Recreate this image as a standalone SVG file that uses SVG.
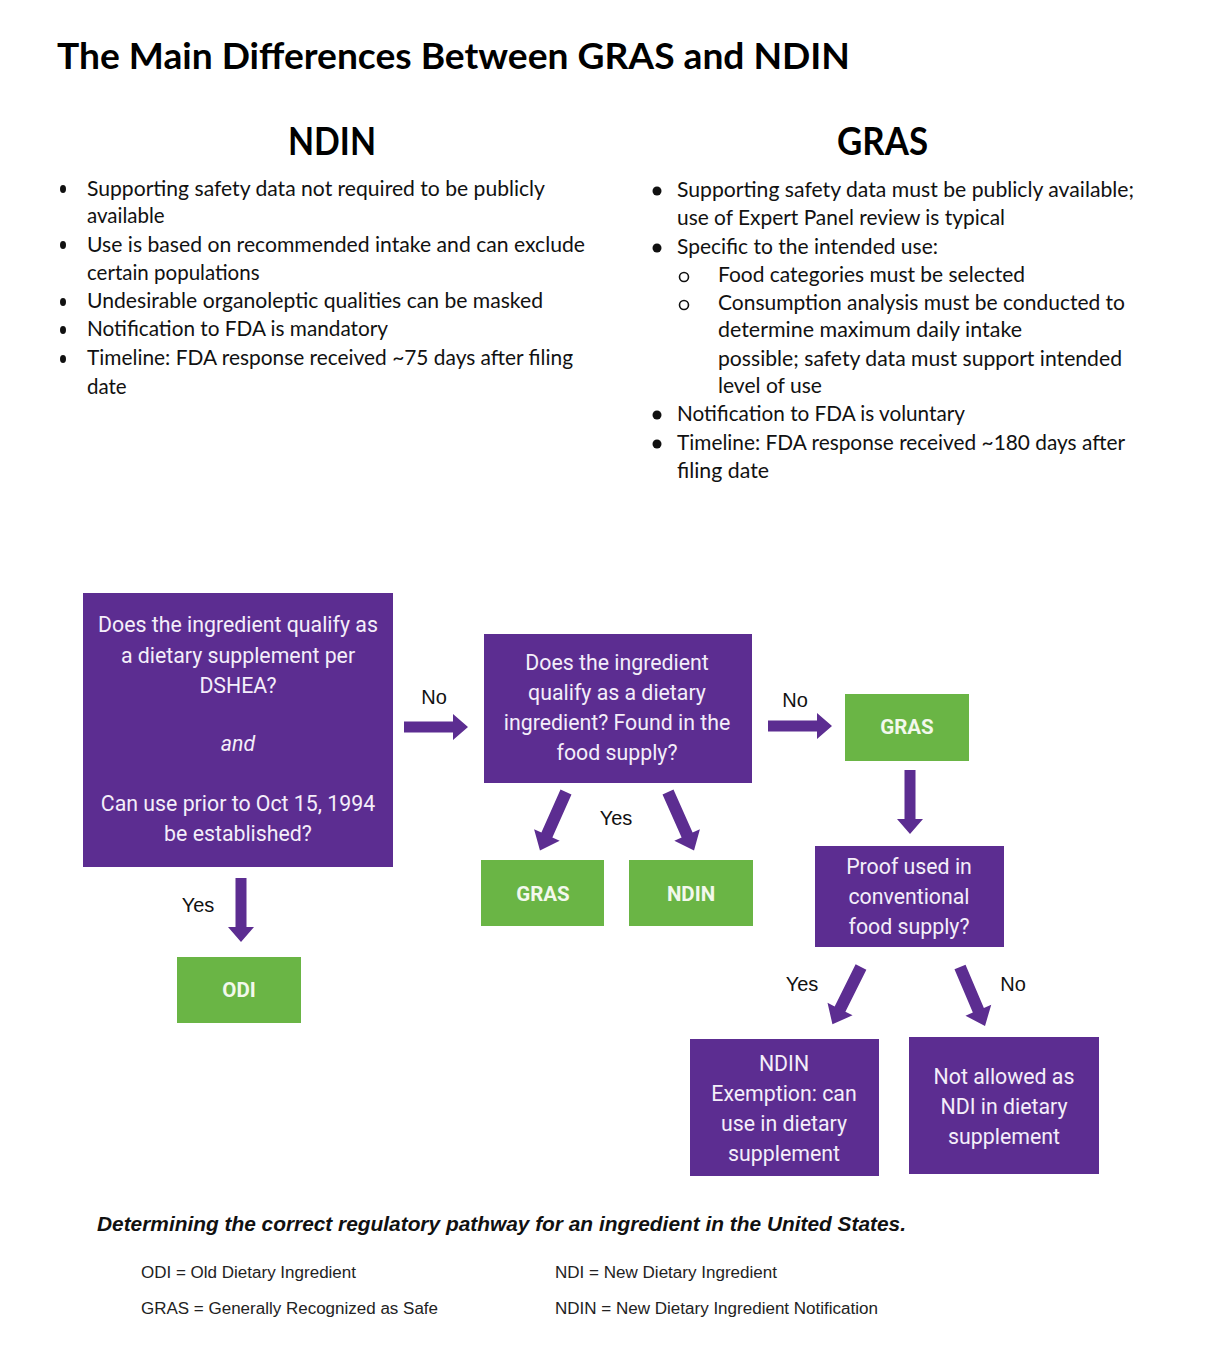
<svg xmlns="http://www.w3.org/2000/svg" xmlns:xlink="http://www.w3.org/1999/xlink" width="1222" height="1366" viewBox="0 0 1222 1366">
<style>
.title{font-family:Lato,"Liberation Sans",sans-serif;font-weight:bold;font-size:36px;fill:#000}
.head{font-family:Lato,"Liberation Sans",sans-serif;font-weight:bold;font-size:38px;fill:#000}
.bt{font-family:Lato,"Liberation Sans",sans-serif;font-size:20.5px;fill:#111}
.pbox{fill:#5c2d91}
.gbox{fill:#6ab545}
.pt{font-family:Roboto,"Liberation Sans",sans-serif;font-size:21.3px;fill:#f4eefa;text-anchor:middle}
.gt{font-family:Roboto,"Liberation Sans",sans-serif;font-weight:bold;font-size:20.5px;fill:#f2f8ec;text-anchor:middle}
.lbl{font-family:"Liberation Sans",Arial,sans-serif;font-size:20px;fill:#111;text-anchor:middle}
.cap{font-family:"Liberation Sans",Arial,sans-serif;font-size:20px;font-weight:bold;font-style:italic;fill:#111}
.leg{font-family:"Liberation Sans",Arial,sans-serif;font-size:16px;fill:#222}
.arr{fill:#5c2d91}
</style>
<defs>
<polygon id="arrowDown" points="-5.5,0 5.5,0 5.5,49 13,49 0,64 -13,49 -5.5,49"/>
<polygon id="arrowDiag" points="-6,0 6,0 6,47 14,47 0,64 -14,47 -6,47"/>
</defs>
<rect width="1222" height="1366" fill="#fff"/>

<g id="title">
<text class="title" x="57" y="69" textLength="793" lengthAdjust="spacingAndGlyphs">The Main Differences Between GRAS and NDIN</text>
</g>

<g id="ndin-list">
<text class="head" x="288" y="155" textLength="88" lengthAdjust="spacingAndGlyphs">NDIN</text>
<g fill="#111">
<ellipse cx="63" cy="189" rx="3" ry="4"/>
<ellipse cx="63" cy="245" rx="3" ry="4"/>
<ellipse cx="63" cy="302" rx="3" ry="4"/>
<ellipse cx="63" cy="330" rx="3" ry="4"/>
<ellipse cx="63" cy="359" rx="3" ry="4"/>
</g>
<text class="bt" x="87" y="196" textLength="458" lengthAdjust="spacingAndGlyphs">Supporting safety data not required to be publicly</text>
<text class="bt" x="87" y="223">available</text>
<text class="bt" x="87" y="252" textLength="498" lengthAdjust="spacingAndGlyphs">Use is based on recommended intake and can exclude</text>
<text class="bt" x="87" y="280">certain populations</text>
<text class="bt" x="87" y="308" textLength="456" lengthAdjust="spacingAndGlyphs">Undesirable organoleptic qualities can be masked</text>
<text class="bt" x="87" y="336" textLength="301" lengthAdjust="spacingAndGlyphs">Notification to FDA is mandatory</text>
<text class="bt" x="87" y="365" textLength="486" lengthAdjust="spacingAndGlyphs">Timeline: FDA response received ~75 days after filing</text>
<text class="bt" x="87" y="394">date</text>
</g>

<g id="gras-list">
<text class="head" x="837" y="155" textLength="91" lengthAdjust="spacingAndGlyphs">GRAS</text>
<g fill="#111">
<circle cx="657" cy="191" r="4.5"/>
<circle cx="657" cy="248" r="4.5"/>
<circle cx="657" cy="415" r="4.5"/>
<circle cx="657" cy="444" r="4.5"/>
</g>
<g fill="none" stroke="#111" stroke-width="1.6">
<circle cx="684" cy="277" r="4.5"/>
<circle cx="684" cy="305" r="4.5"/>
</g>
<text class="bt" x="677" y="197" textLength="457" lengthAdjust="spacingAndGlyphs">Supporting safety data must be publicly available;</text>
<text class="bt" x="677" y="225" textLength="328" lengthAdjust="spacingAndGlyphs">use of Expert Panel review is typical</text>
<text class="bt" x="677" y="254" textLength="261" lengthAdjust="spacingAndGlyphs">Specific to the intended use:</text>
<text class="bt" x="718" y="282" textLength="307" lengthAdjust="spacingAndGlyphs">Food categories must be selected</text>
<text class="bt" x="718" y="310" textLength="407" lengthAdjust="spacingAndGlyphs">Consumption analysis must be conducted to</text>
<text class="bt" x="718" y="337" textLength="304" lengthAdjust="spacingAndGlyphs">determine maximum daily intake</text>
<text class="bt" x="718" y="366" textLength="404" lengthAdjust="spacingAndGlyphs">possible; safety data must support intended</text>
<text class="bt" x="718" y="393" textLength="104" lengthAdjust="spacingAndGlyphs">level of use</text>
<text class="bt" x="677" y="421" textLength="288" lengthAdjust="spacingAndGlyphs">Notification to FDA is voluntary</text>
<text class="bt" x="677" y="450" textLength="448" lengthAdjust="spacingAndGlyphs">Timeline: FDA response received ~180 days after</text>
<text class="bt" x="677" y="478" textLength="92" lengthAdjust="spacingAndGlyphs">filing date</text>
</g>

<g id="connectors">
<use xlink:href="#arrowDown" class="arr" transform="translate(241,878)"/>
<use xlink:href="#arrowDown" class="arr" transform="translate(404,727) rotate(-90)"/>
<use xlink:href="#arrowDown" class="arr" transform="translate(768,726) rotate(-90)"/>
<use xlink:href="#arrowDown" class="arr" transform="translate(910,770)"/>
<use xlink:href="#arrowDiag" class="arr" transform="translate(566,792) rotate(24)"/>
<use xlink:href="#arrowDiag" class="arr" transform="translate(668,792) rotate(-24)"/>
<use xlink:href="#arrowDiag" class="arr" transform="translate(861,967) rotate(26.5)"/>
<use xlink:href="#arrowDiag" class="arr" transform="translate(960,967) rotate(-23)"/>
<text class="lbl" x="198" y="912">Yes</text>
<text class="lbl" x="434" y="704">No</text>
<text class="lbl" x="795" y="707">No</text>
<text class="lbl" x="616" y="825">Yes</text>
<text class="lbl" x="802" y="991">Yes</text>
<text class="lbl" x="1013" y="991">No</text>
</g>

<g id="q1">
<rect class="pbox" x="83" y="593" width="310" height="274"/>
<text class="pt" x="238" y="632">Does the ingredient qualify as</text>
<text class="pt" x="238" y="663">a dietary supplement per</text>
<text class="pt" x="238" y="693">DSHEA?</text>
<text class="pt" x="238" y="751" font-style="italic">and</text>
<text class="pt" x="238" y="811">Can use prior to Oct 15, 1994</text>
<text class="pt" x="238" y="841">be established?</text>
</g>

<g id="odi">
<rect class="gbox" x="177" y="957" width="124" height="66"/>
<text class="gt" x="239" y="997">ODI</text>
</g>

<g id="q2">
<rect class="pbox" x="484" y="634" width="268" height="149"/>
<text class="pt" x="617" y="670">Does the ingredient</text>
<text class="pt" x="617" y="700">qualify as a dietary</text>
<text class="pt" x="617" y="730">ingredient? Found in the</text>
<text class="pt" x="617" y="760">food supply?</text>
</g>

<g id="gras-mid">
<rect class="gbox" x="481" y="860" width="123" height="66"/>
<text class="gt" x="543" y="901">GRAS</text>
</g>

<g id="ndin-mid">
<rect class="gbox" x="629" y="860" width="124" height="66"/>
<text class="gt" x="691" y="901">NDIN</text>
</g>

<g id="gras-top">
<rect class="gbox" x="845" y="694" width="124" height="67"/>
<text class="gt" x="907" y="734">GRAS</text>
</g>

<g id="q3">
<rect class="pbox" x="815" y="846" width="189" height="101"/>
<text class="pt" x="909" y="874">Proof used in</text>
<text class="pt" x="909" y="904">conventional</text>
<text class="pt" x="909" y="934">food supply?</text>
</g>

<g id="ndin-exempt">
<rect class="pbox" x="690" y="1039" width="189" height="137"/>
<text class="pt" x="784" y="1071">NDIN</text>
<text class="pt" x="784" y="1101">Exemption: can</text>
<text class="pt" x="784" y="1131">use in dietary</text>
<text class="pt" x="784" y="1161">supplement</text>
</g>

<g id="not-allowed">
<rect class="pbox" x="909" y="1037" width="190" height="137"/>
<text class="pt" x="1004" y="1084">Not allowed as</text>
<text class="pt" x="1004" y="1114">NDI in dietary</text>
<text class="pt" x="1004" y="1144">supplement</text>
</g>

<g id="caption">
<text class="cap" x="97" y="1231" textLength="809" lengthAdjust="spacingAndGlyphs">Determining the correct regulatory pathway for an ingredient in the United States.</text>
<text class="leg" x="141" y="1278" textLength="215" lengthAdjust="spacingAndGlyphs">ODI = Old Dietary Ingredient</text>
<text class="leg" x="141" y="1314" textLength="297" lengthAdjust="spacingAndGlyphs">GRAS = Generally Recognized as Safe</text>
<text class="leg" x="555" y="1278" textLength="222" lengthAdjust="spacingAndGlyphs">NDI = New Dietary Ingredient</text>
<text class="leg" x="555" y="1314" textLength="323" lengthAdjust="spacingAndGlyphs">NDIN = New Dietary Ingredient Notification</text>
</g>
</svg>
